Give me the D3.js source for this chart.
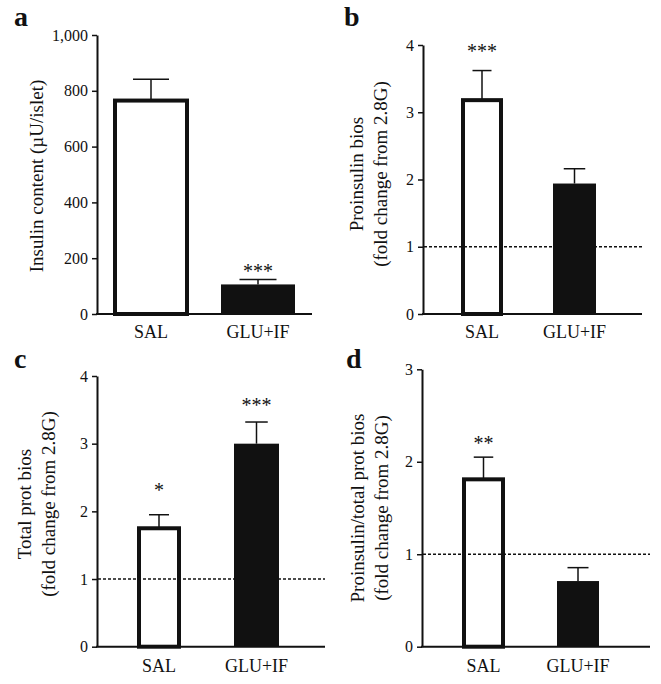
<!DOCTYPE html>
<html><head><meta charset="utf-8">
<script src="https://cdn.jsdelivr.net/npm/d3@7"></script>
<style>
body{margin:0;background:#fff}
svg{display:block}
text{font-family:"Liberation Serif","Times New Roman",serif;fill:#111}
</style>
</head><body>
<svg id="chart" width="661" height="684"></svg>
<script>
// ---------- data ----------
const categories = ["SAL", "GLU+IF"];

const insulinContent = [765, 106];
const insulinContentSem = [76, 18];
const insulinTicks = [0, 200, 400, 600, 800, 1000];
const insulinStars = ["", "***"];
const insulinStarAt = [0, 165];

const proinsulinBios = [3.18, 1.94];
const proinsulinBiosSem = [0.44, 0.22];
const proinsulinTicks = [0, 1, 2, 3, 4];
const proinsulinStars = ["***", ""];
const proinsulinStarAt = [3.96, 0];

const totalProtBios = [1.75, 3.0];
const totalProtBiosSem = [0.20, 0.32];
const totalProtTicks = [0, 1, 2, 3, 4];
const totalProtStars = ["*", "***"];
const totalProtStarAt = [2.36, 3.62];

const ratioBios = [1.81, 0.71];
const ratioBiosSem = [0.24, 0.145];
const ratioTicks = [0, 1, 2, 3];
const ratioStars = ["**", ""];
const ratioStarAt = [2.24, 0];

// ---------- layout ----------
const panels = [
  {letter:"a", lx:14, ly:26, values:insulinContent, sem:insulinContentSem, ticks:insulinTicks,
   stars:insulinStars, starAt:insulinStarAt, yMax:1000, fmt:d3.format(","),
   axisX:97, yTop:35, y0:314, xEnd:312, centers:[151, 258], barW:[72, 74], ref:null,
   title:["Insulin content (\u00B5U/islet)"], titleX:[43], titleY:176, labelY:338},
  {letter:"b", lx:344, ly:26, values:proinsulinBios, sem:proinsulinBiosSem, ticks:proinsulinTicks,
   stars:proinsulinStars, starAt:proinsulinStarAt, yMax:4, fmt:d3.format("d"),
   axisX:423, yTop:45, y0:314, xEnd:642, centers:[482, 574.5], barW:[38, 43], ref:1,
   title:["Proinsulin bios","(fold change from 2.8G)"], titleX:[363, 387], titleY:174, labelY:338},
  {letter:"c", lx:14, ly:368, values:totalProtBios, sem:totalProtBiosSem, ticks:totalProtTicks,
   stars:totalProtStars, starAt:totalProtStarAt, yMax:4, fmt:d3.format("d"),
   axisX:97, yTop:376, y0:646.7, xEnd:325, centers:[159, 256.5], barW:[40, 45], ref:1,
   title:["Total prot bios","(fold change from 2.8G)"], titleX:[31, 55], titleY:504, labelY:672},
  {letter:"d", lx:346, ly:368, values:ratioBios, sem:ratioBiosSem, ticks:ratioTicks,
   stars:ratioStars, starAt:ratioStarAt, yMax:3, fmt:d3.format("d"),
   axisX:422, yTop:369.3, y0:646.7, xEnd:650, centers:[483.5, 578], barW:[39, 42], ref:1,
   title:["Proinsulin/total prot bios","(fold change from 2.8G)"], titleX:[364, 388], titleY:508, labelY:672}
];

const ink = "#111";
const svg = d3.select("#chart");

panels.forEach(p => {
  const g = svg.append("g");
  const y = d3.scaleLinear().domain([0, p.yMax]).range([p.y0, p.yTop]);
  const x = d3.scalePoint().domain(categories).range(p.centers);

  // panel letter
  g.append("text").attr("x", p.lx).attr("y", p.ly)
    .attr("font-size", 28).attr("font-weight", "bold").text(p.letter);

  // y axis
  const ya = g.append("g").attr("transform", `translate(${p.axisX},0)`)
    .call(d3.axisLeft(y).tickValues(p.ticks).tickFormat(p.fmt).tickSize(5).tickPadding(4).tickSizeOuter(0));
  ya.select(".domain").attr("stroke", ink).attr("stroke-width", 2);
  ya.selectAll(".tick line").attr("stroke", ink).attr("stroke-width", 1.5);
  ya.selectAll(".tick text").attr("font-size", 16).attr("font-family", "Liberation Serif, serif").attr("fill", "#222");

  // x axis baseline
  g.append("line").attr("x1", p.axisX - 1).attr("x2", p.xEnd)
    .attr("y1", y(0)).attr("y2", y(0)).attr("stroke", ink).attr("stroke-width", 2);

  // category labels
  g.selectAll("text.cat").data(categories).join("text").attr("class", "cat")
    .attr("x", d => x(d)).attr("y", p.labelY).attr("text-anchor", "middle")
    .attr("font-size", 18).text(d => d);

  // reference dotted line (behind bars)
  if (p.ref !== null) {
    g.append("line").attr("x1", p.axisX + 1).attr("x2", p.xEnd)
      .attr("y1", y(p.ref)).attr("y2", y(p.ref))
      .attr("stroke", ink).attr("stroke-width", 1.5).attr("stroke-dasharray", "3,2");
  }

  const data = categories.map((c, i) => ({c, i, v: p.values[i], e: p.sem[i], s: p.stars[i], sa: p.starAt[i], w: p.barW[i]}));

  // error bars (upper only)
  g.selectAll("line.err").data(data).join("line").attr("class", "err")
    .attr("x1", d => x(d.c)).attr("x2", d => x(d.c))
    .attr("y1", d => y(d.v)).attr("y2", d => y(d.v + d.e))
    .attr("stroke", ink).attr("stroke-width", 1.5);
  g.selectAll("line.cap").data(data).join("line").attr("class", "cap")
    .attr("x1", d => x(d.c) - d.w / 4).attr("x2", d => x(d.c) + d.w / 4)
    .attr("y1", d => y(d.v + d.e)).attr("y2", d => y(d.v + d.e))
    .attr("stroke", ink).attr("stroke-width", 1.5);

  // bars
  g.selectAll("rect.bar").data(data).join("rect").attr("class", "bar")
    .attr("x", d => x(d.c) - d.w / 2)
    .attr("width", d => d.w)
    .attr("y", d => y(d.v))
    .attr("height", d => y(0) - y(d.v))
    .attr("fill", d => d.i === 0 ? "none" : ink)
    .attr("stroke", d => d.i === 0 ? ink : "none")
    .attr("stroke-width", 4);

  // significance stars
  g.selectAll("text.star").data(data.filter(d => d.s)).join("text").attr("class", "star")
    .attr("x", d => x(d.c)).attr("y", d => y(d.sa) + 10)
    .attr("text-anchor", "middle").attr("font-size", 20).text(d => d.s);

  // y titles
  p.title.forEach((t, k) => {
    g.append("text")
      .attr("transform", `translate(${p.titleX[k]},${p.titleY}) rotate(-90)`)
      .attr("text-anchor", "middle").attr("font-size", 19).text(t);
  });
});
</script>
</body></html>
